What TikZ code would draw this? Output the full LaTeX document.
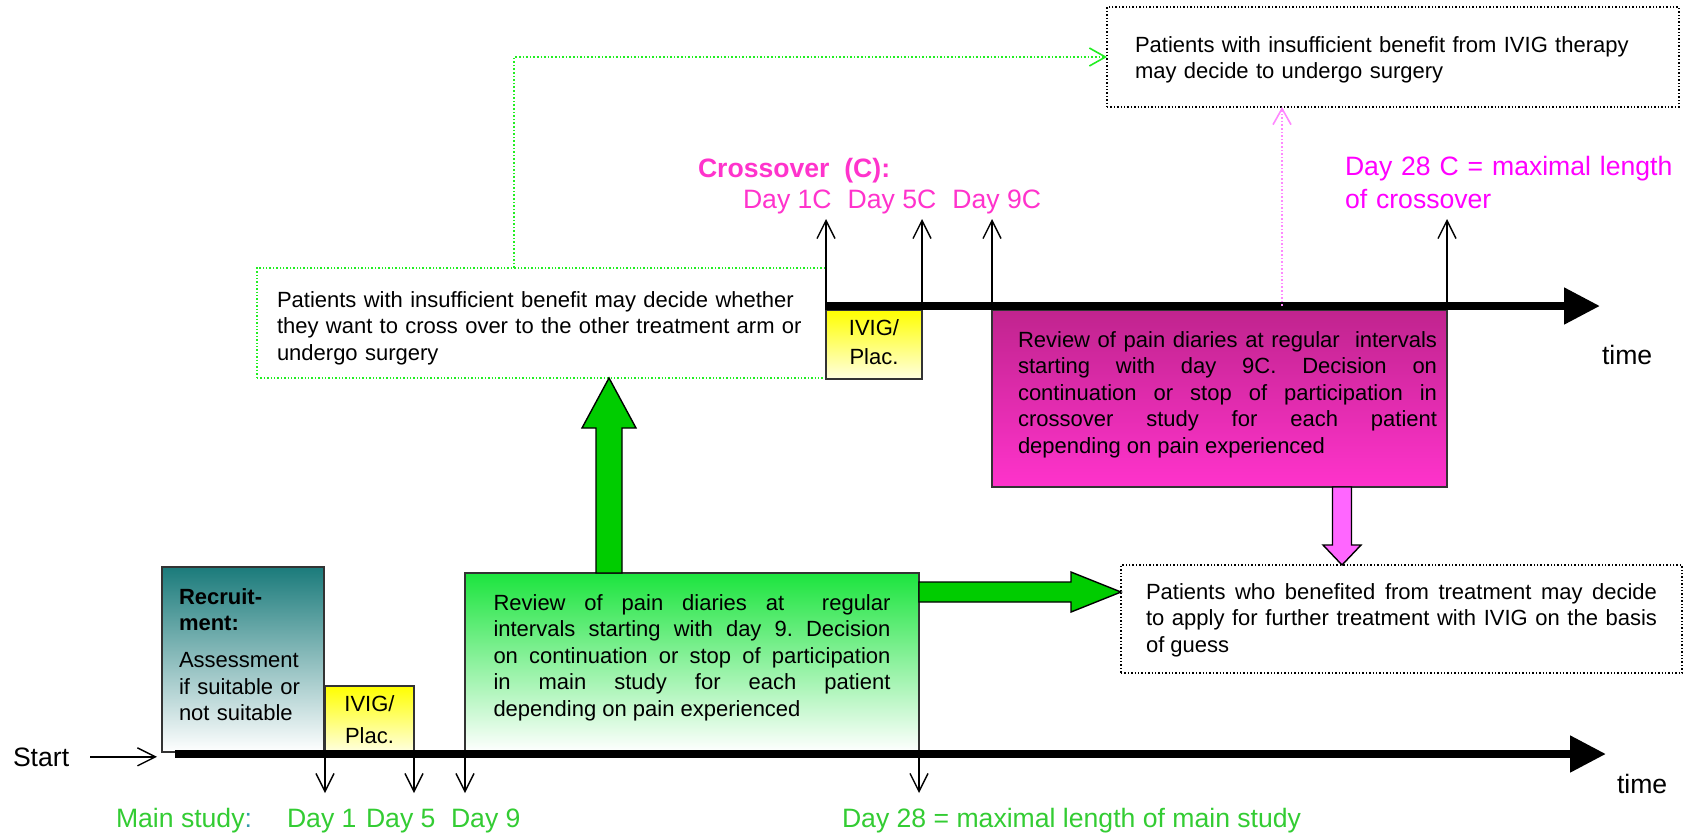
\documentclass[tikz,border=0pt]{standalone}
\usepackage{fontspec}
\setmainfont{Liberation Sans}
\usetikzlibrary{arrows.meta, calc, positioning}
\frenchspacing

\definecolor{maingreen}{HTML}{33CC33}
\definecolor{crosspink}{HTML}{FF33CC}
\definecolor{maxpink}{HTML}{FF00FF}
\definecolor{colonteal}{HTML}{3399AA}
\definecolor{recteal}{HTML}{1B7B7B}
\definecolor{revgreen}{HTML}{1CE43E}
\definecolor{pinktop}{HTML}{C0248E}
\definecolor{pinkbot}{HTML}{FF33CC}
\definecolor{blockgreen}{HTML}{00CC00}
\definecolor{blockpink}{HTML}{FF66FF}
\definecolor{dotgreen}{HTML}{22EE22}
\definecolor{dotpink}{HTML}{FF88FF}

\def\boxfont{\fontsize{11}{13.3}\selectfont\tolerance=10000\hyphenpenalty=10000}
\def\labfont{\fontsize{13.3}{16.5}\selectfont}

\tikzstyle{every node} = [inner sep=0pt, outer sep=0pt]
\tikzstyle{box}        = [rectangle, anchor=north west, draw=black!80, line width=0.7pt, font=\boxfont, inner ysep=0pt]
\tikzstyle{recbox}     = [box, top color=recteal, bottom color=white, align=left]
\tikzstyle{ivigbox}    = [box, top color=yellow, bottom color=yellow!12, align=center, inner xsep=0pt]
\tikzstyle{revgreenbox}= [box, top color=revgreen, bottom color=white, align=justify]
\tikzstyle{revpinkbox} = [box, top color=pinktop, bottom color=pinkbot, align=justify]
\tikzstyle{notebox}    = [box, draw=black, densely dotted, fill=white, align=left]
\tikzstyle{daytext}    = [font=\labfont, anchor=base west]
\tikzstyle{timeline}   = [line width=4pt, -{Triangle[length=18pt,width=17.5pt]}]
\tikzstyle{dayarrow}   = [line width=0.7pt, -{Straight Barb[length=9pt,width=9pt]}]
\tikzstyle{dotlink}    = [line width=0.8pt, densely dotted, -{Straight Barb[length=8pt,width=9pt]}]
\tikzstyle{blockarrow} = [draw=black, line width=0.7pt]

\begin{document}
\begin{tikzpicture}[x=0.5pt, y=-0.5pt]
\useasboundingbox (0,0) rectangle (1690,836);
% Boxes
    % Main study
    \node (rec)   [recbox, inner xsep=8.5pt, text width=64pt, text height=18.5pt, text depth=74pt] at (162,567)
        {\textbf{Recruit-}\\\textbf{ment:}\\[5.2pt]Assessment\\if suitable or\\not suitable};
    \node (ivig1) [ivigbox, text width=44.5pt, text height=12.5pt, text depth=20.5pt] at (325,686) {IVIG/\\[3pt]Plac.};
    \node (rev1)  [revgreenbox, inner xsep=14.25pt, text width=198.5pt, text height=18.5pt, text depth=71pt] at (465,573)
        {Review of pain diaries at\ \ regular\linebreak intervals starting with day 9. Decision\linebreak on continuation or stop of participation\linebreak in main study for each patient\linebreak depending on pain experienced};
    % Crossover
    \node (dec)   [notebox, draw=dotgreen, inner xsep=10pt, text width=264.5pt, text height=19.5pt, text depth=35.5pt] at (257,268)
        {Patients with insufficient benefit may decide whether\\they want to cross over to the other treatment arm or\\undergo surgery};
    \node (ivig2) [ivigbox, text width=48pt, text height=12.5pt, text depth=22pt] at (826,310) {IVIG/\\[1.5pt]Plac.};
    \node (rev2)  [revpinkbox, inner xsep=5pt, text width=217.5pt, text height=18.5pt, text depth=70pt] at (992,310)
        {\hspace*{8pt}\parbox[t]{209.5pt}{Review of pain diaries at regular\ \ intervals\linebreak starting with day 9C. Decision on\linebreak continuation or stop of participation in\linebreak crossover study for each patient\linebreak depending on pain experienced}};
    % Outcomes
    \node (surg)  [notebox, inner xsep=14pt, text width=258pt, text height=22.5pt, text depth=27.5pt] at (1107,7)
        {Patients with insufficient benefit from IVIG therapy\\may decide to undergo surgery};
    \node (more)  [notebox, align=justify, inner xsep=12.5pt, text width=255.5pt, text height=17pt, text depth=37pt] at (1121,565)
        {Patients who benefited from treatment may decide\linebreak to apply for further treatment with IVIG on the basis\linebreak of guess};

% Labels
    \node (start)   [daytext] at (13,766) {Start};
    \node (mainlab) [daytext, text=maingreen] at (116,827) {Main study\textcolor{colonteal}{:}};
    \node (d1)      [daytext, text=maingreen] at (287,827) {Day 1};
    \node (d5)      [daytext, text=maingreen] at (366,827) {Day 5};
    \node (d9)      [daytext, text=maingreen] at (451,827) {Day 9};
    \node (d28)     [daytext, text=maingreen] at (842,827) {Day 28 = maximal length of main study};
    \node (time1)   [daytext] at (1617,793) {time};
    \node (time2)   [daytext] at (1602,364) {time};
    \node (cross)   [daytext, text=crosspink, font=\labfont\bfseries] at (698,177) {Crossover\ \ (C):};
    \node (c1)      [daytext, text=crosspink] at (743,208) {Day 1C};
    \node (c5)      [daytext, text=crosspink, base right=8pt of c1] {Day 5C};
    \node (c9)      [daytext, text=crosspink, base right=8pt of c5] {Day 9C};
    \node (c28)     [daytext, text=maxpink, text width=165pt, align=left] at (1345,175) {Day 28 C = maximal length\\of crossover};

% Timelines
    \coordinate (t1start)  at (175,754);
    \coordinate (t1end)    at (1606,754);
    \coordinate (t2start)  at (826,306);
    \coordinate (t2end)    at (1600,306);
    \coordinate (mainrow)  at (0,793);
    \coordinate (crossrow) at (0,219);
    \draw [timeline] (t1start) -- (t1end);
    \draw [timeline] (t2start) -- (t2end);

% Arrows
    % Start
    \draw [dayarrow, shorten <=10.5pt, shorten >=2.5pt] (start.east) -- (start.east -| rec.west);
    % Main study days
    \draw [dayarrow] (ivig1.south west) -- (ivig1.south west |- mainrow);
    \draw [dayarrow] (ivig1.south east) -- (ivig1.south east |- mainrow);
    \draw [dayarrow] (rev1.south west)  -- (rev1.south west |- mainrow);
    \draw [dayarrow] (rev1.south east)  -- (rev1.south east |- mainrow);
    % Crossover days
    \draw [dayarrow] (ivig2.north west) -- (ivig2.north west |- crossrow);
    \draw [dayarrow] (ivig2.north east) -- (ivig2.north east |- crossrow);
    \draw [dayarrow] (rev2.north west)  -- (rev2.north west |- crossrow);
    \draw [dayarrow] (rev2.north east)  -- (rev2.north east |- crossrow);
    % Dotted links to surgery
    \coordinate (gd) at ($(dec.north west)+(257,0)$);
    \draw [dotlink, dotgreen] (gd) |- (surg.west);
    \coordinate (pd) at ($(rev2.north west)+(290,-4)$);
    \draw [dotlink, dotpink] (pd) -- (pd |- surg.south);
    % Block arrows
    \coordinate (upfoot) at ($(rev1.north west)+(144,0)$);
    \coordinate (uptip)  at (upfoot |- dec.south);
    \draw [blockarrow, fill=blockgreen] ($(upfoot)+(-13,0)$) -- ($(uptip)+(-13,50)$) -- ($(uptip)+(-27,50)$) -- (uptip)
        -- ($(uptip)+(27,50)$) -- ($(uptip)+(13,50)$) -- ($(upfoot)+(13,0)$) -- cycle;
    \coordinate (rtfoot) at ($(rev1.north east)+(0,19)$);
    \coordinate (rttip)  at (rtfoot -| more.west);
    \draw [blockarrow, fill=blockgreen] ($(rtfoot)+(0,-10)$) -- ($(rttip)+(-50,-10)$) -- ($(rttip)+(-50,-20)$) -- (rttip)
        -- ($(rttip)+(-50,20)$) -- ($(rttip)+(-50,10)$) -- ($(rtfoot)+(0,10)$) -- cycle;
    \coordinate (dnfoot) at ($(rev2.south west)+(350,0)$);
    \coordinate (dntip)  at (dnfoot |- more.north);
    \draw [blockarrow, fill=blockpink] ($(dnfoot)+(-9.5,0)$) -- ($(dntip)+(-9.5,-20)$) -- ($(dntip)+(-19,-20)$) -- (dntip)
        -- ($(dntip)+(19,-20)$) -- ($(dntip)+(9.5,-20)$) -- ($(dnfoot)+(9.5,0)$) -- cycle;
\end{tikzpicture}
\end{document}
